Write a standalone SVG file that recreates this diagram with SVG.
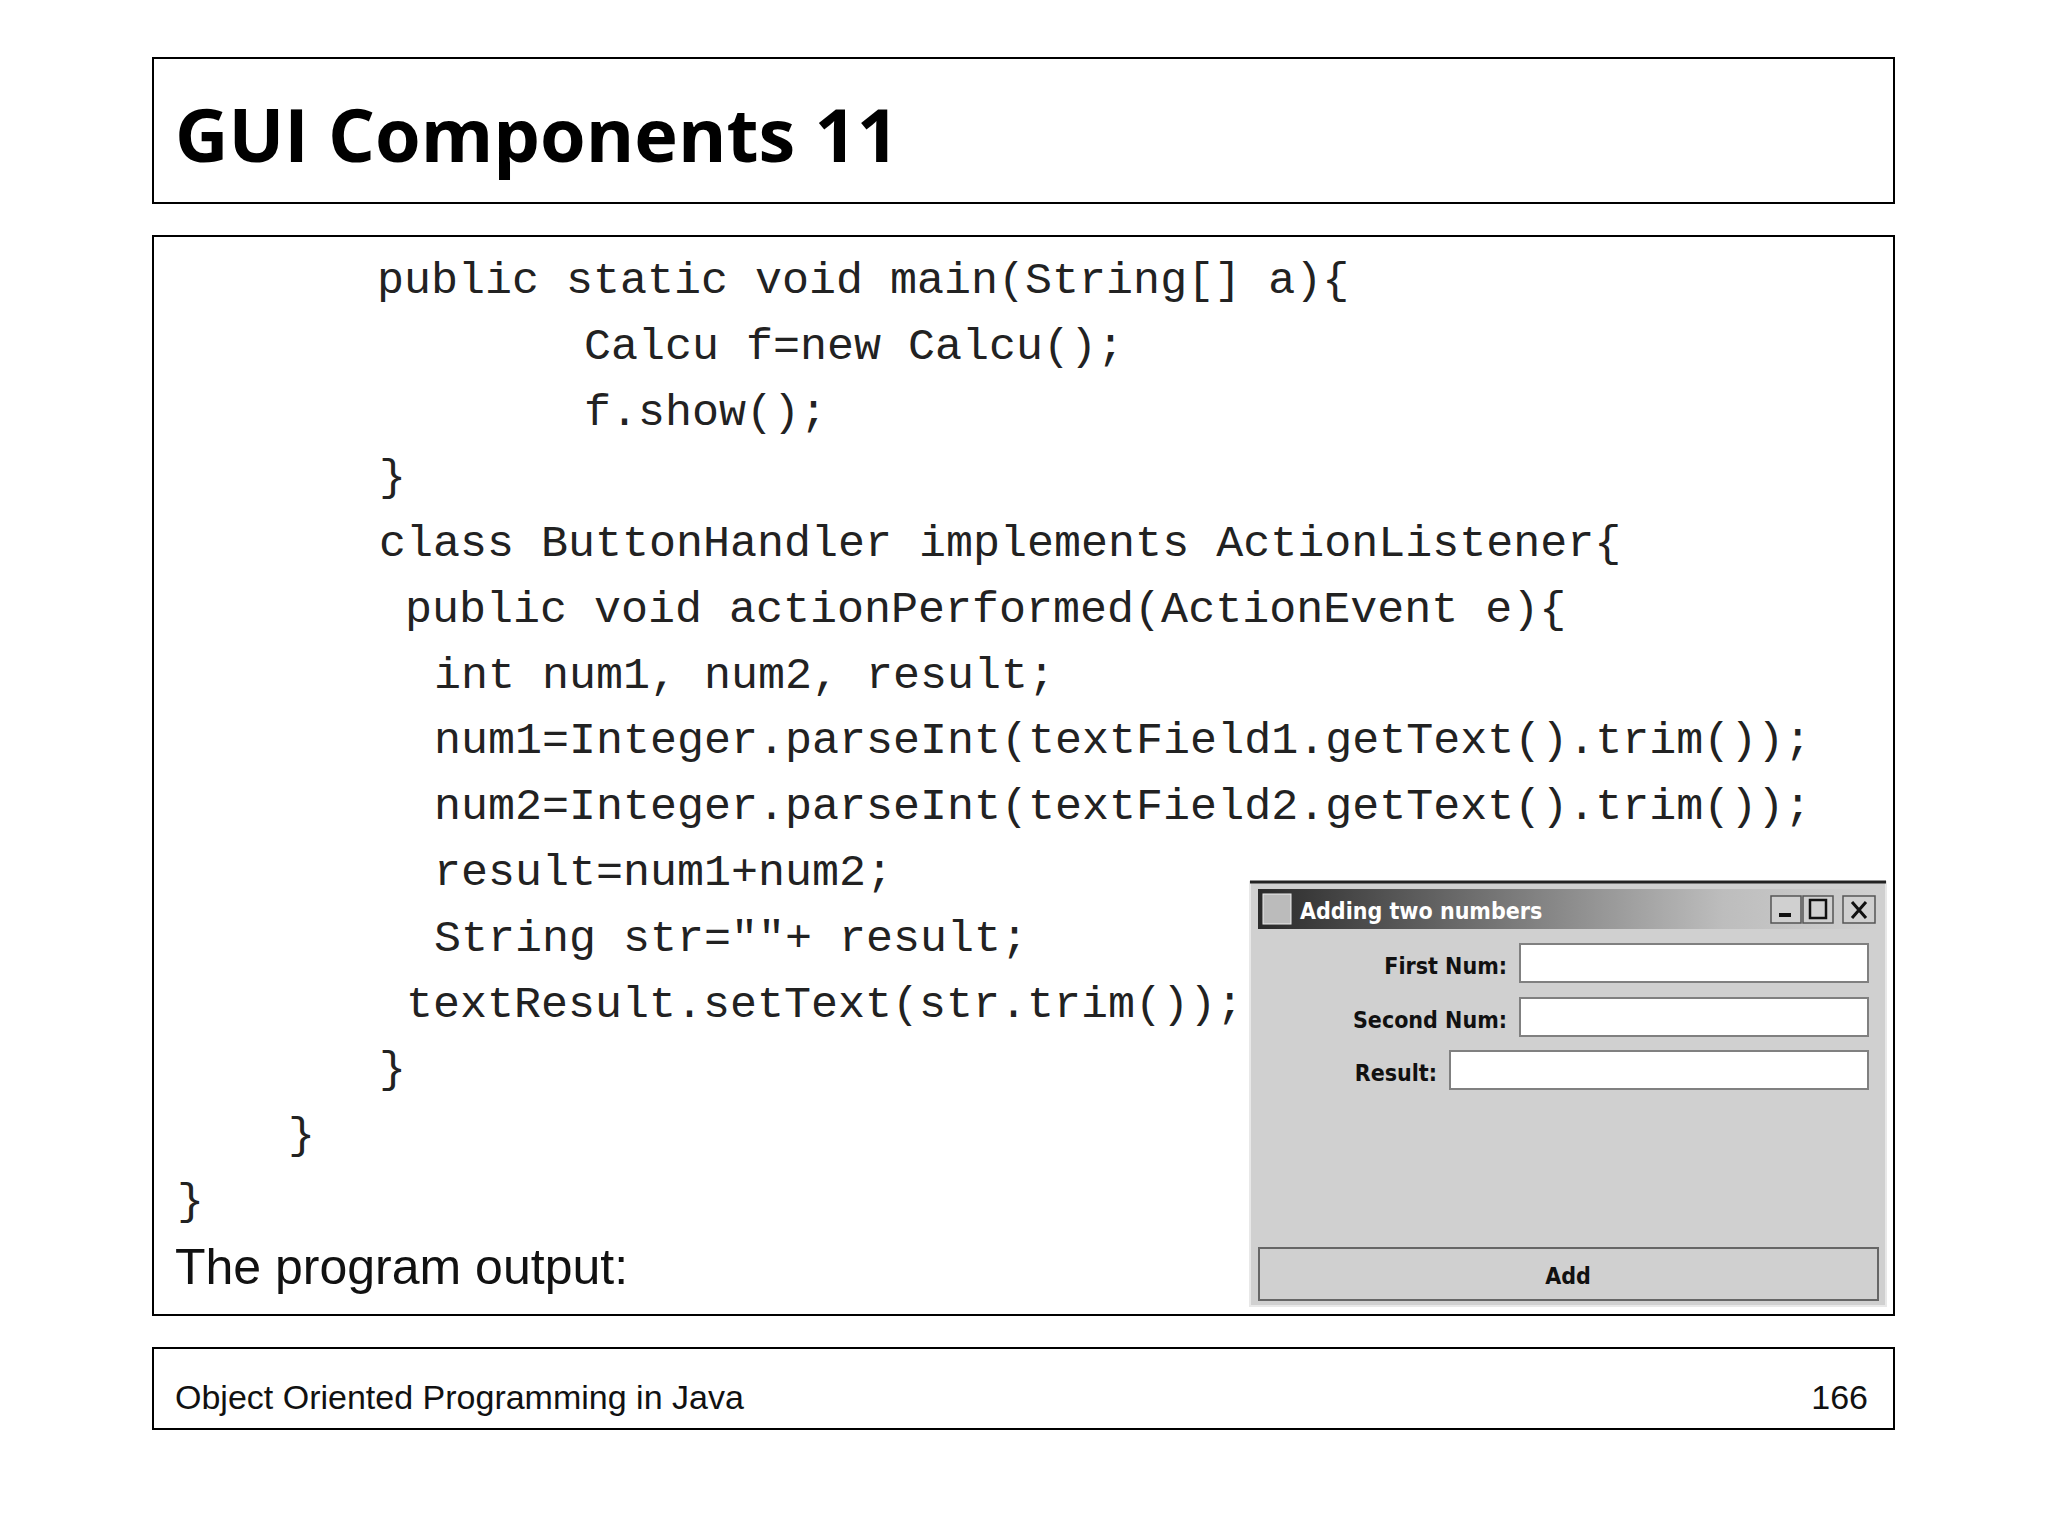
<svg xmlns="http://www.w3.org/2000/svg" width="2048" height="1536" viewBox="0 0 2048 1536">
<defs>
<style>
.box{fill:#fff;stroke:#000;stroke-width:2}
.code{font-family:"Liberation Mono","Courier New",monospace;font-size:45px;fill:#222}
.lbl{font-family:"DejaVu Sans Condensed","DejaVu Sans",sans-serif;font-weight:bold;font-size:23px;fill:#111}
.field{fill:#fff;stroke:#808080;stroke-width:2}
</style>
<linearGradient id="tb" x1="0" x2="1" y1="0" y2="0"><stop offset="0" stop-color="#2a2a2a"/><stop offset="0.75" stop-color="#bdbdbd"/><stop offset="1" stop-color="#d0d0d0"/></linearGradient>
</defs>
<rect width="2048" height="1536" fill="#fff"/>
<g id="header"><rect class="box" x="153" y="58" width="1741" height="145"/>
<text x="175" y="162" font-family="'Open Sans','DejaVu Sans',sans-serif" font-weight="bold" font-size="74" textLength="724" lengthAdjust="spacingAndGlyphs">GUI Components 11</text></g>
<g id="content"><rect class="box" x="153" y="236" width="1741" height="1079"/>
<text class="code" x="377" y="293">public static void main(String[] a){</text>
<text class="code" x="584" y="359">Calcu f=new Calcu();</text>
<text class="code" x="584" y="425">f.show();</text>
<text class="code" x="379" y="490">}</text>
<text class="code" x="379" y="556">class ButtonHandler implements ActionListener{</text>
<text class="code" x="405" y="622">public void actionPerformed(ActionEvent e){</text>
<text class="code" x="434" y="688">int num1, num2, result;</text>
<text class="code" x="434" y="753">num1=Integer.parseInt(textField1.getText().trim());</text>
<text class="code" x="434" y="819">num2=Integer.parseInt(textField2.getText().trim());</text>
<text class="code" x="434" y="885">result=num1+num2;</text>
<text class="code" x="434" y="951">String str=""+ result;</text>
<text class="code" x="406" y="1017">textResult.setText(str.trim());</text>
<text class="code" x="379" y="1082">}</text>
<text class="code" x="288" y="1148">}</text>
<text class="code" x="177" y="1214">}</text>
<text x="175" y="1284" font-family="'Liberation Sans',Arial,sans-serif" font-size="50" fill="#111">The program output:</text>
</g>
<g id="window">
<rect x="1250" y="882" width="636" height="424" fill="#d0d0d0" stroke="#e8e8e8" stroke-width="2"/>
<line x1="1250" y1="882" x2="1886" y2="882" stroke="#222" stroke-width="3"/>
<rect x="1258" y="889" width="620" height="40" fill="url(#tb)"/>
<rect x="1263" y="894" width="28" height="30" fill="#bbb" stroke="#eee"/>
<text x="1300" y="919" font-family="'DejaVu Sans Condensed','DejaVu Sans',sans-serif" font-weight="bold" font-size="23" fill="#fff">Adding two numbers</text>
<g fill="#d0d0d0" stroke="#555" stroke-width="1.5">
<rect x="1771" y="896" width="30" height="27"/><rect x="1803" y="896" width="30" height="27"/><rect x="1843" y="896" width="32" height="27"/></g>
<rect x="1779" y="913" width="12" height="4" fill="#111"/>
<rect x="1810" y="900" width="16" height="18" fill="none" stroke="#111" stroke-width="2.5"/>
<path d="M1852 902 L1866 918 M1866 902 L1852 918" stroke="#111" stroke-width="3"/>
<text class="lbl" x="1507" y="974" text-anchor="end">First Num:</text>
<rect class="field" x="1520" y="944" width="348" height="38"/>
<text class="lbl" x="1507" y="1028" text-anchor="end">Second Num:</text>
<rect class="field" x="1520" y="998" width="348" height="38"/>
<text class="lbl" x="1437" y="1081" text-anchor="end">Result:</text>
<rect class="field" x="1450" y="1051" width="418" height="38"/>
<rect x="1259" y="1248" width="619" height="52" fill="#d0d0d0" stroke="#666" stroke-width="2"/>
<text class="lbl" x="1568" y="1284" text-anchor="middle">Add</text>
</g>
<g id="footer"><rect class="box" x="153" y="1348" width="1741" height="81"/>
<text x="175" y="1409" font-family="'Liberation Sans',Arial,sans-serif" font-size="34" fill="#111">Object Oriented Programming in Java</text>
<text x="1868" y="1409" text-anchor="end" font-family="'Liberation Sans',Arial,sans-serif" font-size="34" fill="#111">166</text></g>
</svg>
